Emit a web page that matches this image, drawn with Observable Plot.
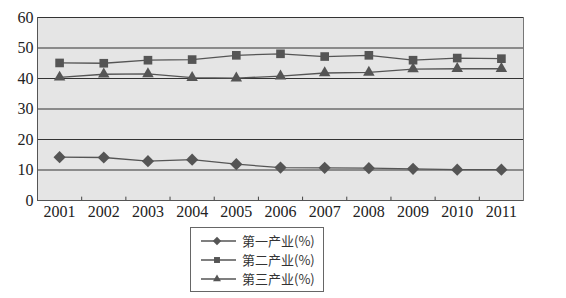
<!DOCTYPE html>
<html><head><meta charset="utf-8">
<script src="https://cdn.jsdelivr.net/npm/d3@7"></script>
<script src="https://cdn.jsdelivr.net/npm/@observablehq/plot@0.6"></script>
<style>
body{margin:0;background:#fff;width:566px;height:298px;position:relative;overflow:hidden;}
#legend{position:absolute;left:190px;top:227px;width:134px;height:65px;border:1px solid #666;box-sizing:border-box;font-family:"Noto Sans CJK SC","Liberation Serif",serif;font-size:13px;color:#333;white-space:nowrap;}
#legend div{height:19px;display:flex;align-items:center;margin-left:8px;}
#legend div:first-child{margin-top:3px;}
#legend svg{margin-right:5px;}
</style>
</head><body>
<div id="chart"></div>
<div id="legend"></div>
<script>
const years = [2001,2002,2003,2004,2005,2006,2007,2008,2009,2010,2011];
const primary   = [14.2,14.1,12.9,13.4,11.9,10.8,10.7,10.6,10.4,10.1,10.1];
const secondary = [45.1,45.0,46.0,46.2,47.6,48.1,47.2,47.6,46.0,46.7,46.5];
const tertiary  = [40.4,41.4,41.5,40.3,40.1,40.8,41.8,42.0,43.1,43.2,43.2];
const seriesNames = ["第一产业(%)","第二产业(%)","第三产业(%)"];
const yTicks = [0,10,20,30,40,50,60];

const seriesVals = [primary, secondary, tertiary];
const symbols = ["diamond2","square2","triangle2"];
const data = seriesVals.flatMap((vals,i)=>vals.map((v,j)=>({year:years[j],value:v,series:seriesNames[i]})));
const boundaries = years.slice(0,-1).map(y=>y+0.5);

const chart = Plot.plot({
  width:566, height:222,
  marginLeft:37, marginRight:43, marginTop:17, marginBottom:22,
  style:{fontFamily:"'Liberation Serif', serif", fontSize:"16px", color:"#333", background:"transparent"},
  x:{type:"linear", domain:[years[0]-0.5, years[years.length-1]+0.5], label:null},
  y:{domain:[0,60], label:null},
  symbol:{domain:seriesNames, range:symbols},
  marks:[
    Plot.frame({fill:"#e5e5e5", stroke:"#777"}),
    Plot.gridY(yTicks, {stroke:"#333", strokeOpacity:1, strokeWidth:1.2}),
    Plot.ruleX(boundaries, {y1:0, y2:1.1, stroke:"#444"}),
    Plot.axisX(years, {tickSize:0, tickPadding:5, tickFormat:d=>String(d), fill:"#222", fontSize:16, label:null}),
    Plot.axisY(yTicks, {tickSize:0, tickPadding:4, fill:"#222", fontSize:16, label:null}),
    Plot.ruleX([years[0]-0.5], {stroke:"#555"}),
    Plot.ruleY([0], {stroke:"#555"}),
    Plot.line(data, {x:"year", y:"value", z:"series", stroke:"#555", strokeWidth:1.3}),
    Plot.dot(data, {x:"year", y:"value", symbol:"series", fill:"#555", stroke:"none", r:5.5})
  ]
});
document.getElementById("chart").append(chart);

const legend = d3.select("#legend");
const legendSyms = [d3.symbolDiamond2, d3.symbolSquare2, d3.symbolTriangle2];
seriesNames.forEach((name,i)=>{
  const row = legend.append("div");
  const s = row.append("svg").attr("width",38).attr("height",14);
  s.append("line").attr("x1",2).attr("x2",37).attr("y1",7).attr("y2",7).attr("stroke","#555").attr("stroke-width",1.3);
  s.append("path").attr("transform","translate(18,7)").attr("d",d3.symbol(legendSyms[i], 45)()).attr("fill","#555");
  row.append("span").text(name);
});
</script>
</body></html>
